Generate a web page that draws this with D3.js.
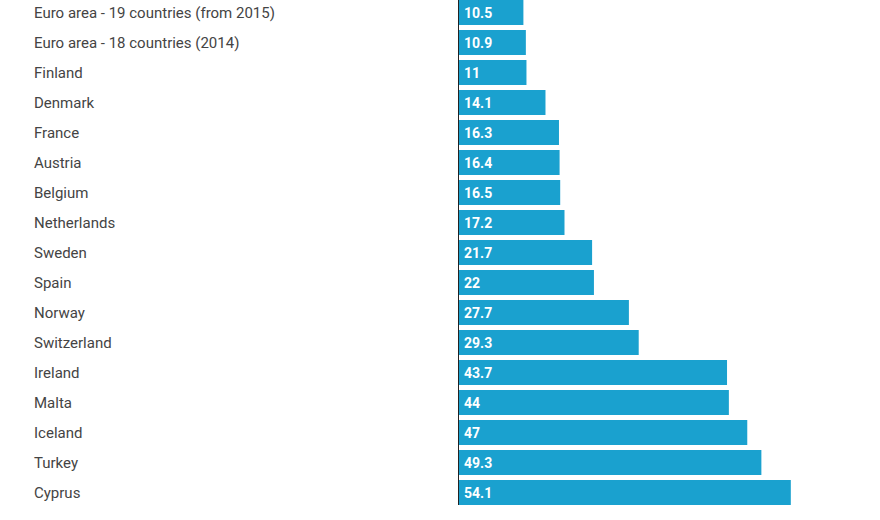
<!DOCTYPE html>
<html>
<head>
<meta charset="utf-8">
<script src="https://cdn.jsdelivr.net/npm/d3@7"></script>
<style>
  body { margin: 0; background: #fff; }
  svg { display: block; font-family: Roboto, "Noto Sans", sans-serif; }
</style>
</head>
<body>
<div id="chart"></div>
<script>
let countries = [
  "Euro area - 19 countries (from 2015)",
  "Euro area - 18 countries (2014)",
  "Finland", "Denmark", "France", "Austria", "Belgium", "Netherlands",
  "Sweden", "Spain", "Norway", "Switzerland", "Ireland", "Malta",
  "Iceland", "Turkey", "Cyprus"
];
let values = [10.5, 10.9, 11, 14.1, 16.3, 16.4, 16.5, 17.2, 21.7, 22, 27.7, 29.3, 43.7, 44, 47, 49.3, 54.1];

let width = 880;
let height = 520;
let left = 459;
let labelX = 34;

let svg = d3.select("#chart").append("svg")
  .attr("width", width)
  .attr("height", height);

let x = d3.scaleLinear()
  .domain([0, 60])
  .range([left, left + 368]);

let y = d3.scaleBand()
  .domain(countries)
  .range([0, 505])
  .paddingInner(1/6)
  .paddingOuter(0);

let rows = countries.map(function(c, i) { return {name: c, value: values[i]}; });

// bars
svg.selectAll("rect.bar")
  .data(rows)
  .enter().append("rect")
  .attr("class", "bar")
  .attr("x", x(0))
  .attr("y", function(d) { return y(d.name); })
  .attr("width", function(d) { return x(d.value) - x(0); })
  .attr("height", y.bandwidth())
  .attr("fill", "#1aa1cf");

// value labels inside bars
svg.selectAll("text.val")
  .data(rows)
  .enter().append("text")
  .attr("class", "val")
  .attr("x", x(0) + 5)
  .attr("y", function(d) { return y(d.name) + y.bandwidth()/2; })
  .attr("dy", "0.36em")
  .attr("fill", "#ffffff")
  .attr("font-size", 14)
  .attr("font-weight", "bold")
  .text(function(d) { return d.value; });

// category labels
svg.selectAll("text.cat")
  .data(rows)
  .enter().append("text")
  .attr("class", "cat")
  .attr("x", labelX)
  .attr("y", function(d) { return y(d.name) + y.bandwidth()/2; })
  .attr("dy", "0.36em")
  .attr("fill", "#444444")
  .attr("font-size", 15)
  .text(function(d) { return d.name; });

// baseline
svg.append("line")
  .attr("x1", x(0) - 0.5)
  .attr("x2", x(0) - 0.5)
  .attr("y1", 0)
  .attr("y2", 505)
  .attr("stroke", "#222")
  .attr("stroke-width", 1);
</script>
</body>
</html>
